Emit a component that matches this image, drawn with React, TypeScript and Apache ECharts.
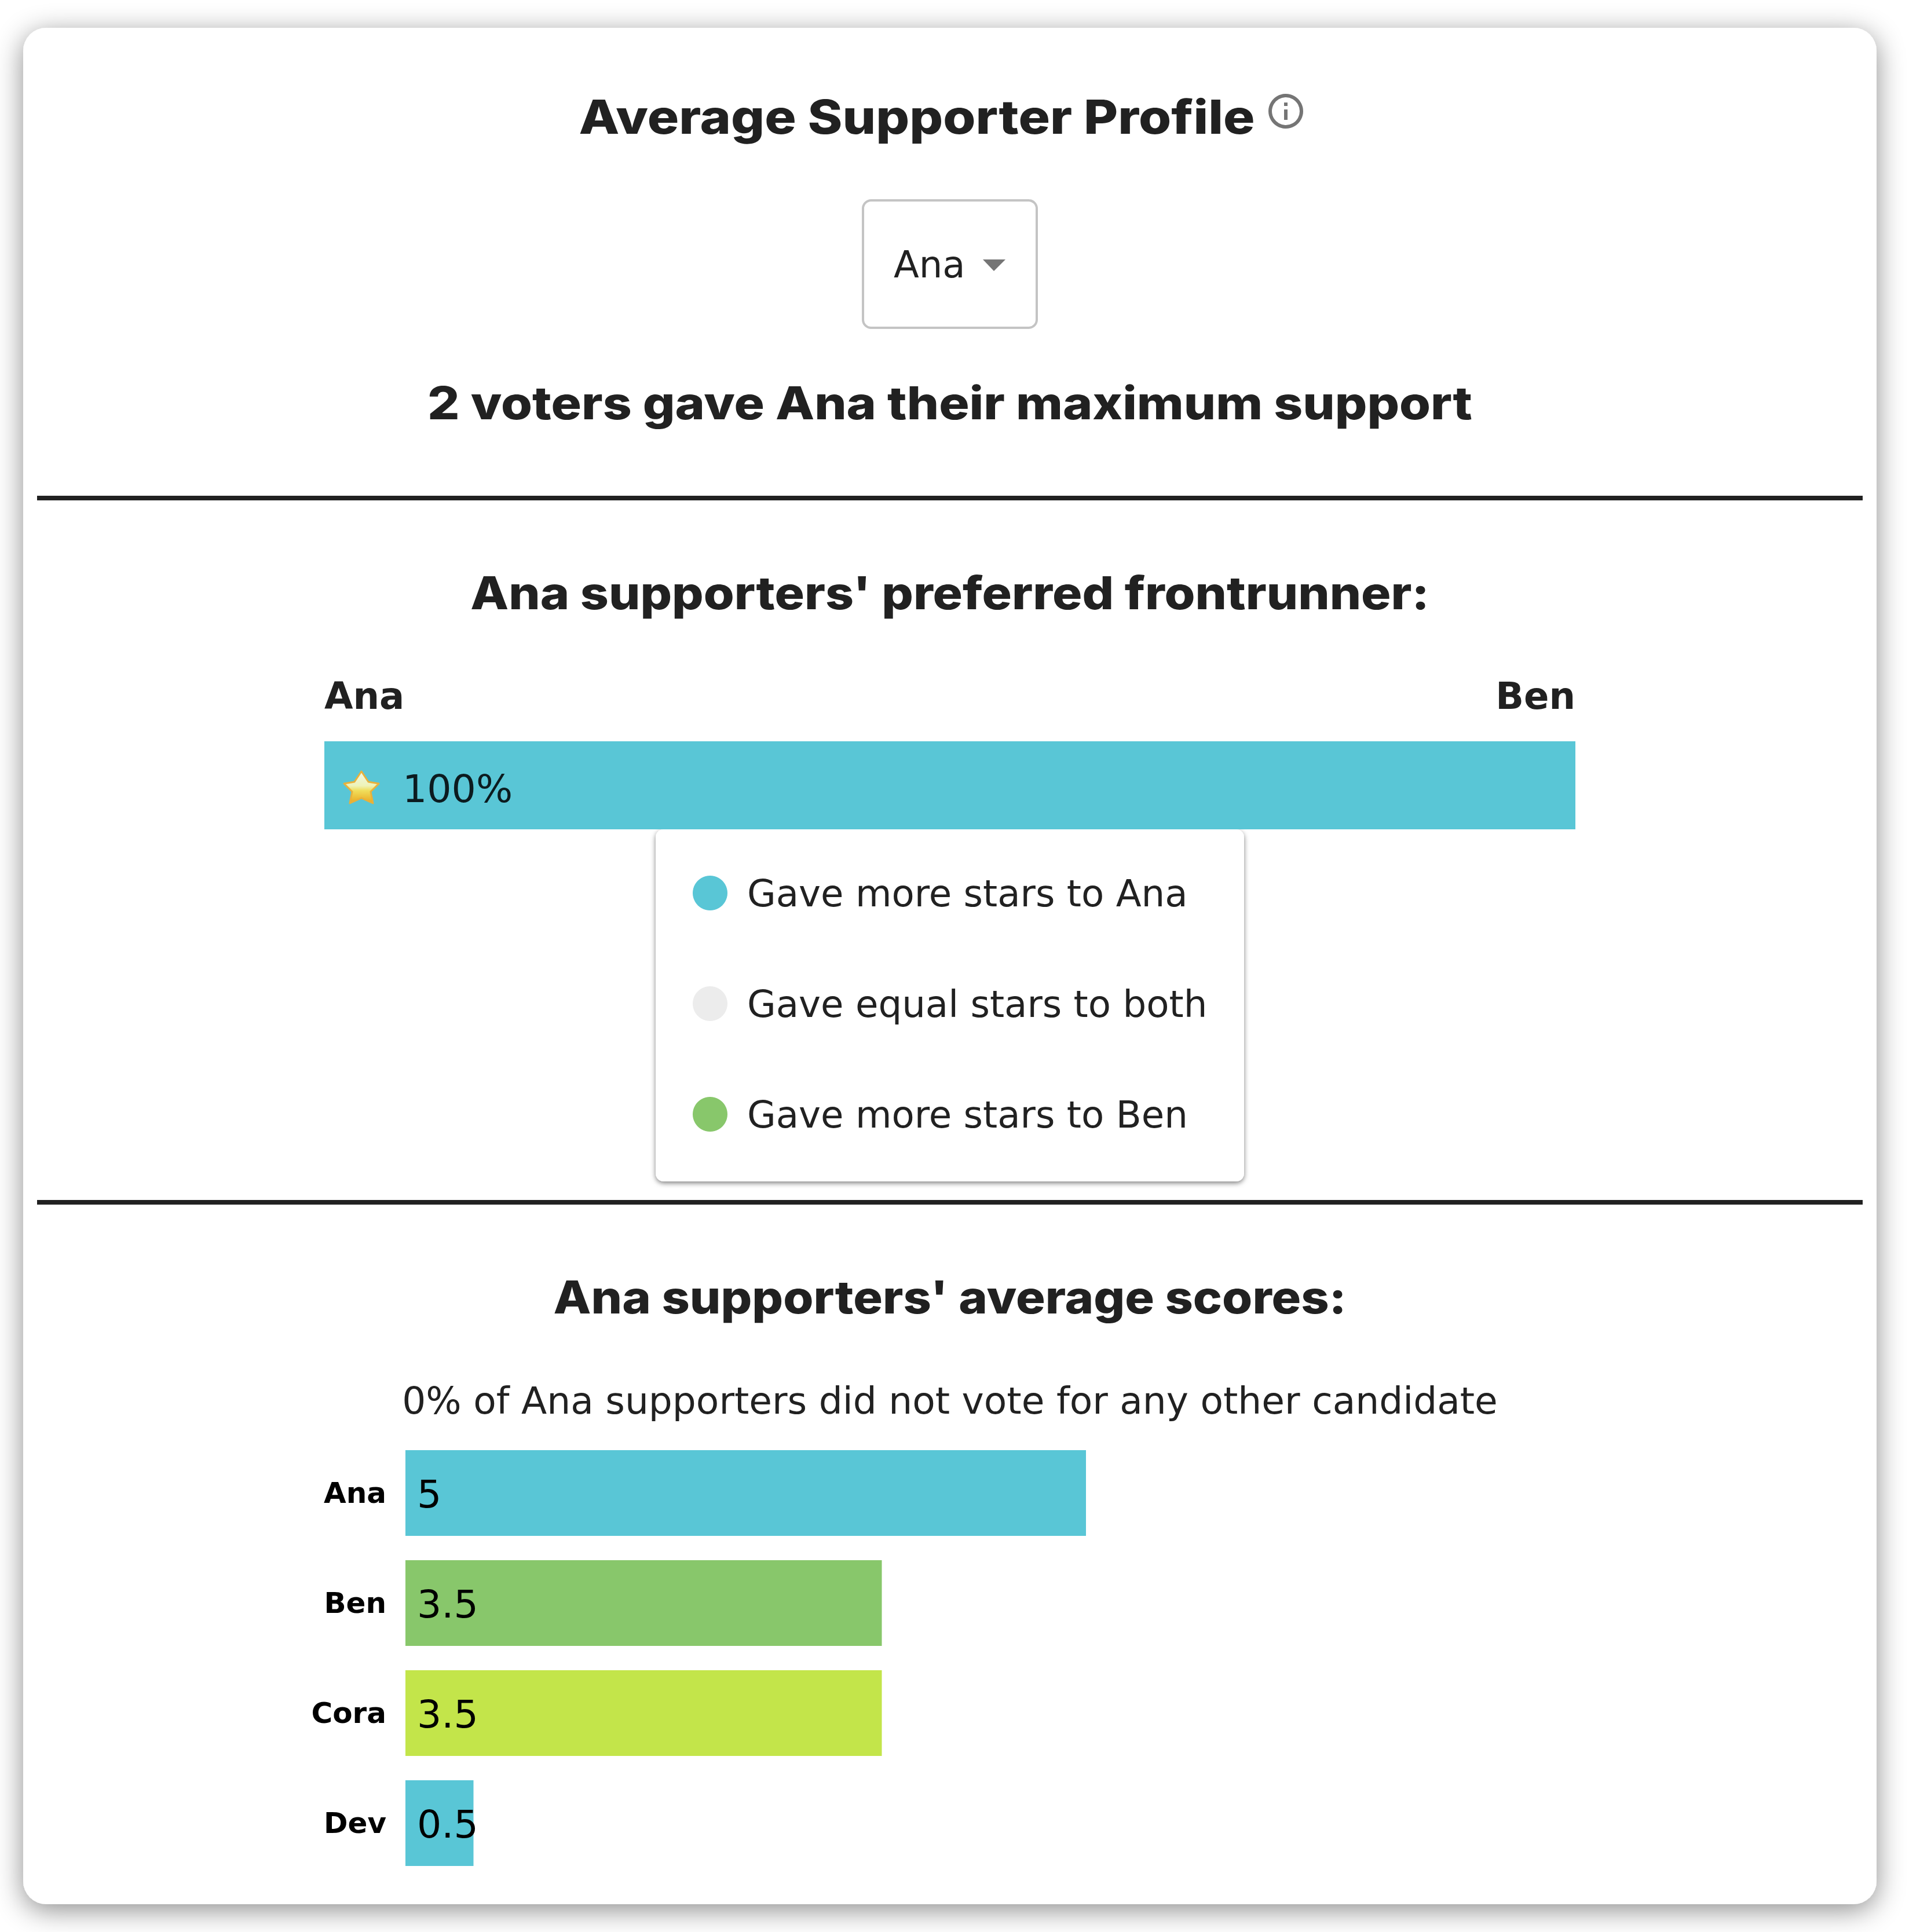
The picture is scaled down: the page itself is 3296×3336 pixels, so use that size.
import React, { useEffect, useRef } from 'react';
import * as echarts from 'echarts';

const candidates = ['Ana', 'Ben', 'Cora', 'Dev'];
const avgScores = [5, 3.5, 3.5, 0.5];
const scoreColors = ['#59c6d6', '#88c76b', '#c3e54a', '#59c6d6'];

const frontrunners = ['Ana', 'Ben'];
const legendNames = ['Gave more stars to Ana', 'Gave equal stars to both', 'Gave more stars to Ben'];
const moreAna = [100];
const equalStars = [0];
const moreBen = [0];
const preferColors = ['#59c6d6', '#ececec', '#88c76b'];

const HEAD_FONT = 'Inter';
const BODY_FONT = '"DejaVu Sans"';
const INK = '#212121';

const heading = (text: string, x: number, y: number, size: number, scaleX: number) => ({
  type: 'text',
  x,
  y,
  scaleX,
  style: {
    text,
    fill: INK,
    font: `800 ${size}px ${HEAD_FONT}`,
    textAlign: 'center',
    textVerticalAlign: 'middle'
  }
});

const bodyText = (text: string, x: number, y: number, align = 'center', weight = 'normal', size = 64) => ({
  type: 'text',
  x,
  y,
  style: {
    text,
    fill: INK,
    font: `${weight} ${size}px ${BODY_FONT}`,
    textAlign: align,
    textVerticalAlign: 'middle'
  }
});

const rule = (y: number) => ({
  type: 'rect',
  shape: { x: 64, y, width: 3152, height: 8 },
  style: { fill: INK }
});

export default function App() {
  const chartRef = useRef<HTMLDivElement>(null);

  useEffect(() => {
    if (!chartRef.current) return;
    const chart = echarts.init(chartRef.current, undefined, { renderer: 'svg' });

    const option: any = {
      animation: false,
      backgroundColor: '#fff',
      graphic: [
        {
          type: 'rect',
          shape: { x: 40, y: 48, width: 3200, height: 3240, r: 40 },
          style: { fill: '#fff', shadowBlur: 48, shadowOffsetY: 10, shadowColor: 'rgba(0,0,0,0.45)' }
        },
        heading('Average Supporter Profile', 1583, 202, 81, 1.122),
        {
          type: 'circle',
          shape: { cx: 2220, cy: 192, r: 27 },
          style: { fill: 'none', stroke: '#757575', lineWidth: 6 }
        },
        { type: 'rect', shape: { x: 2217, y: 177, width: 6, height: 6 }, style: { fill: '#757575' } },
        { type: 'rect', shape: { x: 2217, y: 189, width: 6, height: 18 }, style: { fill: '#757575' } },
        {
          type: 'rect',
          shape: { x: 1490, y: 346, width: 300, height: 220, r: 14 },
          style: { fill: '#fff', stroke: '#c4c4c4', lineWidth: 4 }
        },
        bodyText('Ana', 1543, 457, 'left'),
        { type: 'polygon', shape: { points: [[1697, 448], [1736, 448], [1716, 468]] }, style: { fill: '#757575' } },
        heading('2 voters gave Ana their maximum support', 1640, 696, 78, 1.119),
        rule(856),
        heading("Ana supporters' preferred frontrunner:", 1640, 1024, 78, 1.099),
        bodyText(frontrunners[0], 560, 1202, 'left', 'bold'),
        bodyText(frontrunners[1], 2720, 1202, 'right', 'bold'),
        {
          type: 'rect',
          shape: { x: 1132, y: 1432, width: 1016, height: 608, r: 14 },
          style: { fill: '#fff', shadowBlur: 8, shadowOffsetY: 3, shadowColor: 'rgba(0,0,0,0.5)' }
        },
        rule(2072),
        heading("Ana supporters' average scores:", 1640, 2240, 78, 1.083),
        bodyText('0% of Ana supporters did not vote for any other candidate', 1640, 2418, 'center', 'normal', 64.6),
        {
          type: 'polygon',
          z: 5,
          shape: {
            points: [[624, 1332], [636, 1350], [654, 1353], [640, 1367], [644, 1387], [624, 1378], [604, 1387], [608, 1367], [594, 1353], [612, 1350]]
          },
          style: {
            fill: {
              type: 'linear', x: 0, y: 0, x2: 0, y2: 1,
              colorStops: [
                { offset: 0, color: '#eef8ea' },
                { offset: 0.45, color: '#eef3b8' },
                { offset: 0.6, color: '#f0de5c' },
                { offset: 1, color: '#e9a81f' }
              ]
            },
            stroke: '#e8b13c',
            lineWidth: 3,
            lineJoin: 'round'
          }
        }
      ],
      legend: {
        data: legendNames,
        orient: 'vertical',
        left: 1191,
        top: 1505,
        itemWidth: 60,
        itemHeight: 60,
        itemGap: 127,
        icon: 'circle',
        selectedMode: false,
        textStyle: {
          fontFamily: BODY_FONT,
          fontSize: 64.2,
          color: INK,
          padding: [0, 0, 0, 29]
        }
      },
      grid: [
        { left: 560, top: 1280, width: 2160, height: 152 },
        { left: 700, top: 2483, width: 1175, height: 760 }
      ],
      xAxis: [
        { type: 'value', gridIndex: 0, min: 0, max: 100, show: false },
        { type: 'value', gridIndex: 1, min: 0, max: 5, show: false }
      ],
      yAxis: [
        { type: 'category', gridIndex: 0, data: ['share'], show: false },
        {
          type: 'category',
          gridIndex: 1,
          data: candidates,
          inverse: true,
          axisLine: { show: false },
          axisTick: { show: false },
          axisLabel: {
            margin: 33,
            color: '#000',
            fontFamily: BODY_FONT,
            fontWeight: 'bold',
            fontSize: 50
          }
        }
      ],
      series: [
        {
          name: legendNames[0],
          type: 'bar',
          stack: 'prefer',
          xAxisIndex: 0,
          yAxisIndex: 0,
          barWidth: 152,
          data: moreAna,
          itemStyle: { color: preferColors[0] },
          label: {
            show: true,
            position: 'insideLeft',
            distance: 135,
            offset: [0, 6],
            formatter: '{c}%',
            color: '#0c1b1f',
            fontFamily: BODY_FONT,
            fontSize: 66.5
          }
        },
        {
          name: legendNames[1],
          type: 'bar',
          stack: 'prefer',
          xAxisIndex: 0,
          yAxisIndex: 0,
          barWidth: 152,
          data: equalStars,
          itemStyle: { color: preferColors[1] }
        },
        {
          name: legendNames[2],
          type: 'bar',
          stack: 'prefer',
          xAxisIndex: 0,
          yAxisIndex: 0,
          barWidth: 152,
          data: moreBen,
          itemStyle: { color: preferColors[2] }
        },
        {
          name: 'Average score',
          type: 'bar',
          xAxisIndex: 1,
          yAxisIndex: 1,
          barWidth: 148,
          data: avgScores.map((value, i) => ({ value, itemStyle: { color: scoreColors[i] } })),
          label: {
            show: true,
            position: 'insideLeft',
            distance: 20,
            offset: [0, 2],
            color: '#000',
            fontFamily: BODY_FONT,
            fontSize: 66.5
          }
        }
      ]
    };

    chart.setOption(option);
    return () => chart.dispose();
  }, []);

  return <div ref={chartRef} style={{ position: 'absolute', left: 0, top: 0, width: 3296, height: 3336 }} />;
}
